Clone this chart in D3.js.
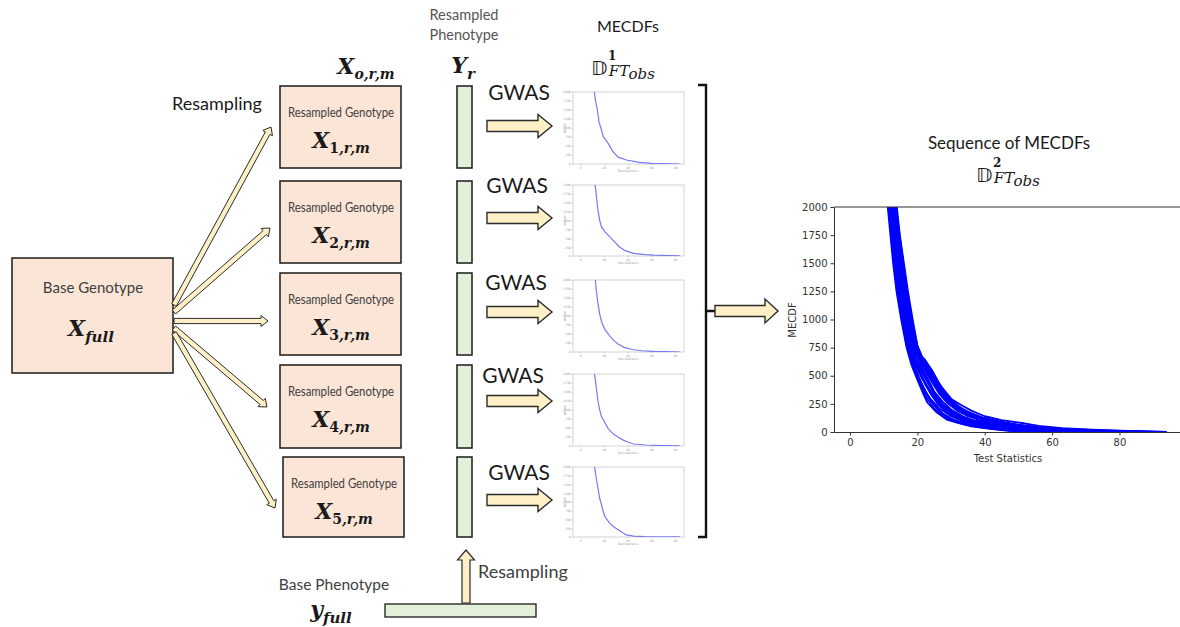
<!DOCTYPE html>
<html>
<head>
<meta charset="utf-8">
<script src="https://cdn.jsdelivr.net/npm/d3@7"></script>
<style>
  html, body { margin: 0; padding: 0; background: #fff; }
  svg { display: block; }
</style>
</head>
<body>
<svg id="fig" width="1180" height="627"></svg>
<script>
// ---------------- data ----------------
const genotypeIndex = ["1", "2", "3", "4", "5"];
const mecdfTicks = [0, 250, 500, 750, 1000, 1250, 1500, 1750, 2000];
const statTicks = [0, 20, 40, 60, 80];

// one MECDF per resampled data set: [test statistic, MECDF]
const replicateMecdf = [
  [[11.8,2050],[13,1750],[14.5,1500],[16,1150],[17.5,1000],[19.5,760],[23.5,580],[27.5,350],[32,190],[39,110],[50,45],[60,20],[70,12],[84,0]],
  [[12.5,2050],[14,1600],[15,1300],[16.5,1000],[18,820],[21,680],[25,540],[29,400],[33,260],[38,150],[45,75],[55,40],[62,25],[75,12],[84,5]],
  [[12.8,2050],[13.5,1750],[14.8,1400],[16.5,1050],[18.5,800],[21,620],[24,480],[28,330],[32,220],[37,130],[44,70],[52,35],[62,15],[72,8],[84,0]],
  [[12,2050],[13.5,1650],[15,1250],[16.5,1000],[18,820],[21,640],[23.5,490],[26,400],[29,310],[32,240],[36,170],[40,110],[45,55],[55,28],[70,12],[84,5]],
  [[12,2050],[13.5,1700],[15,1400],[16.5,1100],[17.8,950],[19.5,720],[21,570],[23,480],[25,390],[28,300],[31,230],[35,140],[39,60],[45,25],[55,10],[70,5],[84,2]]
];

// the whole sequence of MECDFs
const sequenceMecdf = [
  [[11.2,2000],[12,1750],[12.8,1500],[13.8,1250],[15.2,1000],[16.8,750],[18.2,600],[19.5,500],[21.6,350],[23,260],[25.5,180],[28.7,110],[32,80],[36,50],[41,30],[47,10],[52,4],[55,0]],
  [[11.6,2000],[12.4,1750],[13.3,1500],[14.4,1250],[15.8,1000],[17.2,750],[18.8,620],[20.3,500],[22,380],[24,290],[26.5,210],[30,140],[34,90],[38,60],[44,35],[50,20],[58,8],[66,2],[70,0]],
  [[12,2000],[12.9,1750],[13.8,1500],[14.9,1250],[16.2,1000],[17.6,780],[19,650],[21,520],[22.5,430],[24.6,330],[27,240],[30.5,160],[34,110],[39,75],[45,45],[52,25],[60,12],[75,4],[88,0]],
  [[12.3,2000],[13.2,1750],[14.1,1500],[15.2,1250],[16.6,1000],[18,800],[19.8,680],[21.5,560],[23.2,470],[25,360],[27.5,270],[30,200],[33.5,140],[37,100],[42,70],[48,45],[55,30],[62,18],[80,8],[94,0]],
  [[12.6,2000],[13.5,1750],[14.5,1500],[15.6,1250],[17,1000],[18.3,820],[20,700],[22,600],[24,500],[26,400],[28,310],[31,220],[34.5,160],[38,110],[43,80],[50,55],[57,35],[66,20],[80,10],[92,0]],
  [[13,2000],[13.9,1750],[14.9,1500],[16,1250],[17.3,1000],[18.8,800],[20.5,690],[22.5,620],[24,560],[25.8,470],[27.5,380],[29,300],[32,230],[35,180],[39,130],[44,95],[50,60],[56,40],[65,25],[78,10],[88,0]],
  [[13.3,2000],[14.2,1750],[15.3,1500],[16.4,1250],[17.8,1000],[19.4,770],[21,650],[23,560],[25,450],[27,360],[29.5,270],[32,210],[35.5,150],[40,110],[46,75],[52,45],[60,25],[70,12],[84,0]],
  [[13.6,2000],[14.6,1750],[15.7,1500],[16.8,1250],[18.2,1000],[19.8,780],[21.5,640],[23.5,520],[25.2,430],[27.2,330],[29.7,260],[33.5,190],[37,140],[41,100],[47,60],[53,35],[61,15],[72,5],[80,0]],
  [[13.9,2000],[14.8,1750],[16,1500],[17.2,1250],[18.6,1000],[20.1,750],[22,620],[24.3,500],[26.5,410],[28.5,320],[31,250],[33.5,200],[36,160],[40,120],[45,90],[51,60],[57,35],[65,15],[76,6],[90,0]],
  [[12.2,2000],[13,1750],[13.9,1500],[15,1250],[16.3,1000],[17.5,760],[19,640],[20.8,530],[22.2,440],[24,340],[26,250],[28.5,180],[31.5,130],[35,90],[40,60],[47,30],[54,12],[60,0]],
  [[11.8,2000],[12.7,1750],[13.6,1500],[14.7,1250],[16,1000],[17.3,760],[18.6,610],[20,500],[21.8,400],[23.5,300],[25.5,220],[27.5,160],[30.5,110],[34,75],[39,45],[44,25],[49,8],[52,0]],
  [[12.8,2000],[13.7,1750],[14.7,1500],[15.9,1250],[17.2,1000],[18.6,800],[20.3,700],[22.3,640],[24.5,540],[26.2,440],[28.3,360],[30.2,290],[33,240],[36,190],[40,140],[45,105],[51,80],[56,55],[63,35],[72,22],[85,8],[94,0]],
  [[12.4,2000],[13.4,1750],[14.4,1500],[15.5,1250],[16.9,1000],[18.4,770],[19.9,620],[21.8,510],[23.4,420],[25.4,320],[27.8,240],[31,170],[34,125],[38,90],[43,60],[49,40],[56,25],[64,12],[74,4],[82,0]],
  [[13.1,2000],[14,1750],[15.1,1500],[16.2,1250],[17.6,1000],[19.1,790],[20.8,670],[22.8,590],[24.8,480],[26.8,380],[29,290],[31.5,230],[35,170],[39,125],[44,85],[49,55],[54,35],[62,20],[70,10],[78,0]],
  [[11.5,2000],[12.3,1750],[13.1,1500],[14.2,1250],[15.6,1000],[17,760],[18.4,630],[19.8,520],[21.4,410],[23,320],[25,235],[27.5,165],[30,120],[33,85],[37,55],[42,35],[48,18],[54,6],[58,0]],
  [[12.7,2000],[13.6,1750],[14.6,1500],[15.7,1250],[17.1,1000],[18.7,780],[20.4,660],[22.2,560],[24.2,470],[26.4,360],[28.8,280],[31.8,220],[34.8,175],[38.5,130],[43,95],[48,70],[54,45],[60,30],[68,18],[76,10],[86,4],[91,0]],
  [[13.5,2000],[14.4,1750],[15.5,1500],[16.6,1250],[18,1000],[19.6,760],[21.2,630],[23.2,540],[25.3,440],[27.4,350],[30,270],[33,200],[36.5,150],[41,105],[46,70],[52,45],[58,28],[66,15],[75,6],[84,0]],
  [[12.1,2000],[13,1750],[14,1500],[15.1,1250],[16.5,1000],[17.9,790],[19.4,660],[21.2,550],[23,450],[24.8,350],[26.8,260],[29.5,190],[32.5,140],[36,100],[41,70],[47,40],[53,22],[60,10],[66,0]],
  [[11.4,2000],[12.2,1750],[13,1500],[14,1250],[15.4,1000],[16.9,760],[18.3,620],[19.7,510],[21.2,400],[22.8,300],[24.8,215],[27.2,150],[30,105],[33.5,70],[38,45],[43,25],[49,10],[53,0]],
  [[12.9,2000],[13.8,1750],[14.8,1500],[15.9,1250],[17.3,1000],[18.9,770],[20.6,640],[22.6,530],[24.6,430],[26.5,340],[28.8,260],[31.8,190],[35,140],[39,100],[44,70],[50,45],[57,25],[65,12],[72,0]],
  [[13.2,2000],[14.1,1750],[15.2,1500],[16.3,1250],[17.7,1000],[19.3,780],[21,660],[22.6,600],[24.3,520],[26.2,420],[28.1,330],[30.5,260],[33.3,200],[36.5,150],[41,110],[46,80],[52,50],[59,30],[67,15],[79,5],[87,0]],
  [[12.5,2000],[13.3,1750],[14.3,1500],[15.4,1250],[16.7,1000],[18.1,790],[19.6,650],[21.4,540],[23.2,440],[25.2,340],[27.3,250],[30,180],[33,130],[36.5,95],[41,65],[46,40],[52,22],[58,10],[64,0]],
  [[13.7,2000],[14.7,1750],[15.8,1500],[17,1250],[18.4,1000],[20,770],[21.8,640],[23.8,540],[25.8,450],[27.8,360],[30.2,280],[32.8,215],[36,165],[40,120],[45,85],[50,60],[56,38],[63,20],[72,8],[81,0]],
  [[12,2000],[12.8,1750],[13.7,1500],[14.8,1250],[16.1,1000],[17.4,780],[18.9,640],[20.6,520],[22.4,420],[24.2,330],[26.3,245],[29,175],[32,125],[35.5,90],[40,60],[45,38],[51,20],[57,8],[62,0]]
];

// ---------------- styles ----------------
const SANS = "Lato, 'Open Sans', sans-serif";
const SERIF = "'DejaVu Serif', serif";
const AXFONT = "'DejaVu Sans', sans-serif";
const PEACH = "#fbe5d6", GREEN = "#e2f0d9", CREAM = "#fdf0c6";
const INK = "#1a1a1a", GREY = "#404040";

const svg = d3.select("#fig");
svg.append("rect").attr("width", 1180).attr("height", 627).attr("fill", "#fff");

// block arrow outline from (x0,y0) to tip (x1,y1)
function blockArrow(x0, y0, x1, y1, sw, hw, hl) {
  const dx = x1 - x0, dy = y1 - y0, L = Math.hypot(dx, dy);
  const ux = dx / L, uy = dy / L, nx = -uy, ny = ux;
  const bx = x1 - ux * hl, by = y1 - uy * hl;
  const p = [
    [x0 + nx * sw, y0 + ny * sw], [bx + nx * sw, by + ny * sw], [bx + nx * hw, by + ny * hw],
    [x1, y1],
    [bx - nx * hw, by - ny * hw], [bx - nx * sw, by - ny * sw], [x0 - nx * sw, y0 - ny * sw]
  ];
  return "M" + p.map(q => q[0].toFixed(2) + "," + q[1].toFixed(2)).join("L") + "Z";
}
function drawArrow(g, a, sw, hw, hl, strokeW) {
  g.append("path").attr("d", blockArrow(a[0], a[1], a[2], a[3], sw, hw, hl))
    .attr("fill", CREAM).attr("stroke", "#2b2b2b").attr("stroke-width", strokeW)
    .attr("stroke-linejoin", "miter");
}

// plain label in the diagram font
function label(g, x, y, text, size, fill, anchor, len) {
  const t = g.append("text").attr("x", x).attr("y", y)
    .attr("text-anchor", anchor || "middle")
    .attr("font-family", SANS).attr("font-size", size).attr("fill", fill).text(text);
  if (len) t.attr("textLength", len).attr("lengthAdjust", "spacingAndGlyphs");
  return t;
}

// bold-italic math symbol with subscript, e.g. X_{1,r,m}
function mathSub(g, x, y, base, sub, size, subSize, anchor) {
  const t = g.append("text").attr("x", x).attr("y", y)
    .attr("text-anchor", anchor || "middle")
    .attr("font-family", SERIF).attr("font-weight", "bold").attr("font-style", "italic")
    .attr("font-size", size).attr("fill", INK);
  t.append("tspan").text(base);
  const s = t.append("tspan").attr("dy", subSize * 0.38).attr("font-size", subSize);
  sub.forEach(part => {
    s.append("tspan").attr("font-style", part.upright ? "normal" : "italic").text(part.t);
  });
  return t;
}

// double-struck D with a stacked superscript and the FT_obs subscript
function dStruck(g, x, y, sup) {
  const t = g.append("text").attr("x", x).attr("y", y).attr("fill", INK)
    .attr("font-family", SERIF).attr("font-size", 15);
  t.append("tspan").attr("font-family", AXFONT).attr("font-size", 20).text("\u{1D53B}");
  t.append("tspan").attr("dy", -15).attr("dx", 0.5).attr("font-weight", "bold").attr("font-size", 12).text(sup);
  t.append("tspan").attr("dy", 16).attr("dx", -7.5).attr("font-style", "italic").text("FT");
  t.append("tspan").attr("dy", 3).attr("dx", 0.5).attr("font-style", "italic").text("obs");
}

const diagram = svg.append("g");

// ---------- base genotype ----------
diagram.append("rect").attr("x", 12).attr("y", 258).attr("width", 161).attr("height", 115)
  .attr("fill", PEACH).attr("stroke", INK).attr("stroke-width", 1.5);
label(diagram, 93, 293, "Base Genotype", 15, GREY);
mathSub(diagram, 91, 336, "X", [{ t: "full" }], 22, 15);

// ---------- resampled genotypes ----------
const boxTop = [86, 181, 273, 365, 457];
const boxLeft = [280, 280, 280, 280, 283];
const boxH = [82, 82, 82, 83, 80];
genotypeIndex.forEach((k, i) => {
  const x0 = boxLeft[i], y0 = boxTop[i], cx = x0 + 61;
  diagram.append("rect").attr("x", x0).attr("y", y0).attr("width", 121).attr("height", boxH[i])
    .attr("fill", PEACH).attr("stroke", INK).attr("stroke-width", 1.5);
  label(diagram, cx, y0 + 31, "Resampled Genotype", 13.2, GREY, "middle", 106);
  mathSub(diagram, cx, y0 + 62, "X", [{ t: k, upright: true }, { t: ",r,m" }], 22, 14);

  // resampled phenotype column
  diagram.append("rect").attr("x", 457).attr("y", y0).attr("width", 15).attr("height", boxH[i])
    .attr("fill", GREEN).attr("stroke", INK).attr("stroke-width", 1.5);
});
mathSub(diagram, 366, 74, "X", [{ t: "o,r,m" }], 22, 14);
mathSub(diagram, 463, 73, "Y", [{ t: "r" }], 22, 15);

label(diagram, 464, 20, "Resampled", 14.5, "#555");
label(diagram, 464, 40, "Phenotype", 14.5, "#555");

// resampling fan from the base genotype
label(diagram, 217, 110, "Resampling", 18, INK);
const fan = [
  [174, 305, 271, 127],
  [174, 312, 270, 228],
  [174, 321, 268, 321],
  [174, 328, 267, 407],
  [174, 333, 275, 508]
];
fan.forEach(a => drawArrow(diagram, a, 2.6, 5.5, 7, 1));

// ---------- base phenotype ----------
label(diagram, 334, 590, "Base Phenotype", 15.5, GREY);
mathSub(diagram, 331, 617, "y", [{ t: "full" }], 22, 15);
diagram.append("rect").attr("x", 385).attr("y", 604).attr("width", 151).attr("height", 13)
  .attr("fill", GREEN).attr("stroke", INK).attr("stroke-width", 1.3);
drawArrow(diagram, [466, 603, 466, 550], 4, 8.5, 10, 1.2);
label(diagram, 478, 578, "Resampling", 18, GREY, "start");

// ---------- GWAS arrows ----------
const gwasY = [126, 218, 312, 401, 500];
const gwasTextY = [100, 193, 290, 383, 480];
const gwasTextX = [519, 517, 516, 513, 519];
gwasY.forEach((cy, i) => {
  label(diagram, gwasTextX[i], gwasTextY[i], "GWAS", 21, INK);
  drawArrow(diagram, [487, cy, 552, cy], 5.5, 11.5, 14, 1.4);
});

// ---------- per-replicate MECDF thumbnails ----------
label(diagram, 628, 32, "MECDFs", 16, INK);
dStruck(diagram, 591, 75, "1");

const thumbTop = [92, 185, 280, 374, 467];
const thumbBottom = [164, 256, 352, 446, 537];
replicateMecdf.forEach((curve, i) => {
  const g = diagram.append("g");
  const x = d3.scaleLinear().domain([-6, 87.5]).range([573, 684]);
  const y = d3.scaleLinear().domain([0, 2000]).range([thumbBottom[i], thumbTop[i]]);
  const clipId = "thumb" + i;
  g.append("clipPath").attr("id", clipId).append("rect")
    .attr("x", 573).attr("y", thumbTop[i]).attr("width", 111).attr("height", thumbBottom[i] - thumbTop[i]);
  g.append("rect").attr("x", 573).attr("y", thumbTop[i]).attr("width", 111)
    .attr("height", thumbBottom[i] - thumbTop[i]).attr("fill", "#fff").attr("stroke", "#c8c8c8").attr("stroke-width", 0.8);
  g.append("path").datum(curve).attr("clip-path", `url(#${clipId})`)
    .attr("d", d3.line().x(d => x(d[0])).y(d => y(d[1])))
    .attr("fill", "none").attr("stroke", "#7878f4").attr("stroke-width", 1.2);
  const ax = g.append("g").attr("transform", `translate(0,${thumbBottom[i]})`)
    .call(d3.axisBottom(x).tickValues(statTicks).tickSize(1.2).tickSizeOuter(0));
  const ay = g.append("g").attr("transform", "translate(573,0)")
    .call(d3.axisLeft(y).tickValues(mecdfTicks).tickFormat(d3.format("d")).tickSize(1.2).tickSizeOuter(0));
  [ax, ay].forEach(a => {
    a.select(".domain").remove();
    a.selectAll("line").attr("stroke", "#aaa").attr("stroke-width", 0.5);
    a.selectAll("text").attr("font-size", 3).attr("fill", "#999").attr("font-family", AXFONT);
  });
  ax.selectAll("text").attr("dy", "0.9em").attr("y", 2);
  ay.selectAll("text").attr("x", -2);
  g.append("text").attr("x", 628).attr("y", thumbBottom[i] + 8).attr("text-anchor", "middle")
    .attr("font-family", AXFONT).attr("font-size", 3).attr("fill", "#999").text("Test Statistics");
  g.append("text").attr("transform", `translate(566,${(thumbTop[i] + thumbBottom[i]) / 2}) rotate(-90)`)
    .attr("text-anchor", "middle")
    .attr("font-family", AXFONT).attr("font-size", 3).attr("fill", "#999").text("MECDF");
});

// ---------- bracket collecting the replicates ----------
diagram.append("path").attr("d", "M698,85 H706 V537 H698 M706,311 H716")
  .attr("fill", "none").attr("stroke", "#111").attr("stroke-width", 2.4);
drawArrow(diagram, [715, 311, 778, 311], 5.5, 12, 13, 1.4);

// ---------- sequence of MECDFs ----------
label(diagram, 1009, 149, "Sequence of MECDFs", 17, INK);
dStruck(diagram, 976, 182, "2");

const plot = svg.append("g");
const px = d3.scaleLinear().domain([-4.75, 99.75]).range([834, 1186]);
const py = d3.scaleLinear().domain([0, 2000]).range([432, 207]);
plot.append("clipPath").attr("id", "seqclip").append("rect")
  .attr("x", 834).attr("y", 206).attr("width", 352).attr("height", 226);

const line = d3.line().x(d => px(d[0])).y(d => py(d[1]));
plot.append("g").attr("clip-path", "url(#seqclip)")
  .selectAll("path").data(sequenceMecdf).join("path")
  .attr("d", line).attr("fill", "none").attr("stroke", "#0000ff").attr("stroke-width", 1.8)
  .attr("stroke-linejoin", "round");

const axX = plot.append("g").attr("transform", "translate(0,432)")
  .call(d3.axisBottom(px).tickValues(statTicks).tickSize(3.5).tickSizeOuter(0));
const axY = plot.append("g").attr("transform", "translate(834,0)")
  .call(d3.axisLeft(py).tickValues(mecdfTicks).tickFormat(d3.format("d")).tickSize(3.5).tickSizeOuter(0));
[axX, axY].forEach(a => {
  a.select(".domain").attr("stroke", "#333").attr("stroke-width", 1);
  a.selectAll(".tick line").attr("stroke", "#333");
  a.selectAll("text").attr("font-family", AXFONT).attr("font-size", 10).attr("fill", "#333");
});
plot.append("line").attr("x1", 834).attr("x2", 1186).attr("y1", 207).attr("y2", 207)
  .attr("stroke", "#333").attr("stroke-width", 1);

plot.append("text").attr("x", 1008).attr("y", 462).attr("text-anchor", "middle")
  .attr("font-family", AXFONT).attr("font-size", 10).attr("fill", "#333").text("Test Statistics");
plot.append("text").attr("transform", "translate(796,320) rotate(-90)").attr("text-anchor", "middle")
  .attr("font-family", AXFONT).attr("font-size", 10).attr("fill", "#333").text("MECDF");
</script>
</body>
</html>
